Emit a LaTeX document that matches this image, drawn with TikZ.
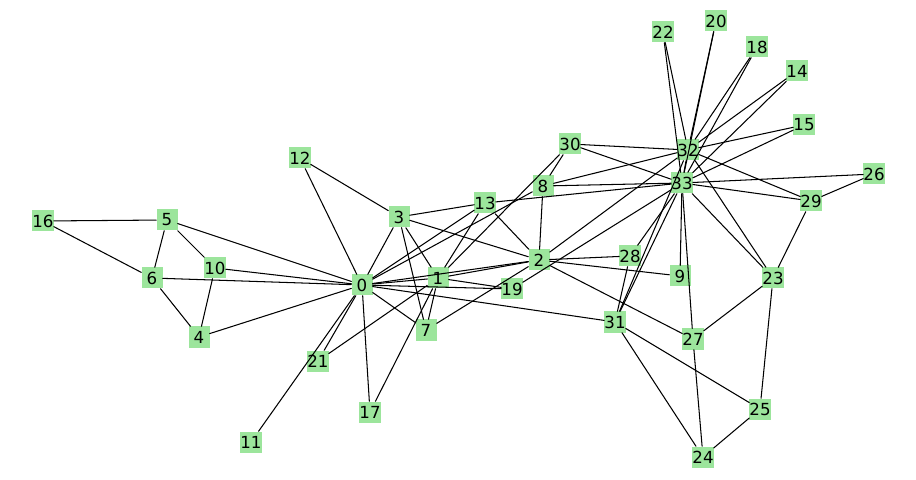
\documentclass[tikz,border=0pt]{standalone}
\usepackage{fontspec}
\setmainfont{DejaVu Sans}
\usepackage{tikz}
\definecolor{NodeGreen}{HTML}{9CE59C}
\definecolor{EdgeBlack}{HTML}{000000}

\begin{document}
\begin{tikzpicture}[x=1bp,y=-1bp,line cap=round,line join=round,
  vertex/.style={fill=NodeGreen,minimum size=21bp,inner sep=0pt,font=\fontsize{16.7}{20}\selectfont},
  link/.style={EdgeBlack,line width=1.05pt}]
  \useasboundingbox (0,0) rectangle (916,480);
  % club members, placed as in the layout
  \foreach \n/\x/\y in {0/362/285,1/438/278,2/539/260,3/399/217,4/199/337,5/167/220,6/152/278,
      7/426/330,8/543/186,9/680/276,10/215/268,11/251/442,12/300/158,13/485/203,14/797/71,
      15/804/125,16/43/221,17/370/412,18/757/47,19/512/289,20/716/21,21/318/361,22/663/32,
      23/773/278,24/703/457,25/760/409,26/874/174,27/693/339,28/630/256,29/811/201,30/570/144,
      31/615/322,32/688/150,33/682/183}
    \node[vertex] (n\n) at (\x,\y) {\n};
  % friendships
  \foreach \a/\b in {0/1,0/2,0/3,0/4,0/5,0/6,0/7,0/8,0/10,0/11,0/12,0/13,0/17,0/19,0/21,0/31,
      1/2,1/3,1/7,1/13,1/17,1/19,1/21,1/30,2/3,2/7,2/8,2/9,2/13,2/27,2/28,2/32,
      3/7,3/12,3/13,4/6,4/10,5/6,5/10,5/16,6/16,8/30,8/32,8/33,9/33,13/33,
      14/32,14/33,15/32,15/33,18/32,18/33,19/33,20/32,20/33,22/32,22/33,
      23/25,23/27,23/29,23/32,23/33,24/25,24/27,24/31,25/31,26/29,26/33,27/33,
      28/31,28/33,29/32,29/33,30/32,30/33,31/32,31/33,32/33}
    \draw[link] (n\a) -- (n\b);
\end{tikzpicture}
\end{document}
